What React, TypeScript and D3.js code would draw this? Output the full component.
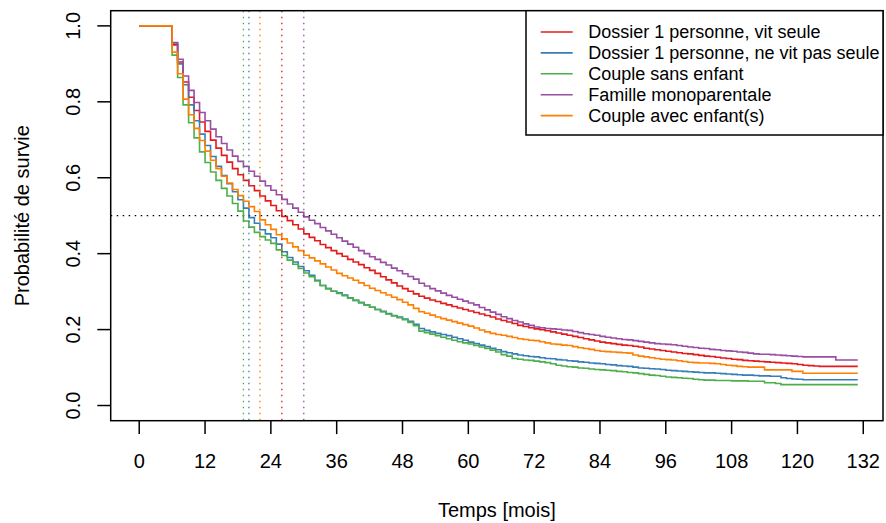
import React from "react";
import * as d3 from "d3";

const W = 886;
const H = 523;

const seriesNames = [
  "Dossier 1 personne, vit seule",
  "Dossier 1 personne, ne vit pas seule",
  "Couple sans enfant",
  "Famille monoparentale",
  "Couple avec enfant(s)",
];
const seriesColors = ["#E41A1C", "#377EB8", "#4DAF4A", "#984EA3", "#FF7F00"];
const medianMonths = [26, 20, 19, 30, 22];
const xTicks = [0, 12, 24, 36, 48, 60, 72, 84, 96, 108, 120, 132];
const yTicks = [0, 0.2, 0.4, 0.6, 0.8, 1.0];
const endMonth = 131;

// survival probability on [month, month+1), index = month
const survRed = [
  1, 1, 1, 1, 1, 1, .950, .905, .852, .812,
  .777, .747, .722, .699, .678, .659, .641, .624, .608, .593,
  .579, .566, .552, .539, .527, .513, .498, .487, .476, .465,
  .452, .443, .434, .424, .416, .408, .400, .393, .385, .378,
  .371, .363, .356, .348, .339, .331, .323, .315, .308, .301,
  .294, .288, .283, .278, .274, .269, .265, .261, .257, .253,
  .249, .245, .241, .237, .233, .228, .224, .220, .216, .211,
  .208, .205, .202, .200, .197, .194, .191, .188, .185, .182,
  .179, .176, .173, .170, .167, .165, .163, .161, .159, .158,
  .156, .154, .151, .149, .147, .145, .143, .141, .139, .137,
  .136, .134, .132, .130, .129, .127, .125, .124, .122, .121,
  .119, .118, .117, .116, .115, .114, .113, .112, .111, .110,
  .108, .106, .105, .104, .103, .103, .103, .103, .103, .103, .103,
];
const survBlue = [
  1, 1, 1, 1, 1, 1, .955, .900, .845, .792,
  .750, .715, .685, .656, .630, .606, .584, .563, .542, .520,
  .495, .480, .463, .452, .442, .425, .405, .390, .378, .366,
  .355, .343, .330, .316, .308, .301, .297, .291, .284, .277,
  .271, .265, .259, .253, .248, .242, .237, .233, .228, .222,
  .214, .203, .198, .194, .190, .187, .184, .180, .176, .172,
  .167, .163, .159, .155, .151, .147, .142, .139, .136, .133,
  .131, .129, .128, .126, .124, .123, .121, .120, .118, .117,
  .115, .114, .112, .111, .110, .108, .107, .105, .104, .103,
  .101, .099, .098, .097, .096, .095, .093, .092, .091, .090,
  .089, .088, .087, .086, .086, .085, .084, .083, .082, .081,
  .080, .080, .079, .078, .078, .077, .077, .073, .071, .070,
  .069, .068, .068, .068, .068, .068, .068, .068, .068, .068, .068,
];
const survGreen = [
  1, 1, 1, 1, 1, 1, .923, .864, .792, .745,
  .705, .668, .640, .615, .593, .572, .552, .532, .512, .486,
  .470, .456, .445, .436, .427, .410, .395, .383, .372, .361,
  .349, .339, .328, .316, .308, .301, .295, .289, .283, .277,
  .271, .265, .259, .253, .247, .241, .236, .231, .226, .219,
  .210, .196, .192, .188, .184, .180, .176, .172, .168, .165,
  .162, .158, .154, .150, .146, .141, .134, .130, .124, .122,
  .120, .119, .117, .115, .113, .110, .106, .104, .102, .101,
  .099, .098, .096, .095, .094, .093, .092, .090, .089, .087,
  .086, .084, .082, .080, .079, .077, .075, .074, .073, .072,
  .071, .069, .068, .067, .067, .066, .066, .066, .065, .065,
  .065, .064, .064, .064, .060, .060, .058, .055, .055, .055,
  .055, .055, .055, .055, .055, .055, .055, .055, .055, .055, .055,
];
const survPurple = [
  1, 1, 1, 1, 1, 1, .956, .912, .868, .830,
  .798, .772, .750, .728, .708, .690, .673, .657, .643, .630,
  .617, .604, .591, .579, .567, .555, .543, .531, .520, .509,
  .497, .488, .479, .469, .460, .451, .442, .433, .425, .417,
  .408, .400, .392, .385, .377, .370, .362, .355, .347, .340,
  .333, .322, .315, .308, .302, .296, .290, .285, .280, .275,
  .270, .265, .258, .252, .246, .240, .234, .229, .224, .220,
  .215, .211, .207, .205, .203, .202, .201, .199, .198, .195,
  .192, .189, .187, .185, .182, .180, .178, .176, .174, .173,
  .171, .169, .167, .165, .163, .162, .161, .160, .158, .156,
  .154, .153, .151, .150, .148, .147, .145, .144, .143, .141,
  .140, .138, .136, .135, .135, .134, .133, .132, .131, .130,
  .129, .128, .128, .128, .128, .128, .128, .120, .120, .120, .120,
];
const survOrange = [
  1, 1, 1, 1, 1, 1, .931, .874, .807, .766,
  .730, .698, .670, .646, .624, .604, .586, .569, .553, .538,
  .524, .511, .489, .476, .464, .450, .439, .428, .418, .408,
  .396, .389, .381, .373, .365, .357, .348, .342, .336, .330,
  .323, .316, .309, .303, .297, .291, .285, .279, .272, .265,
  .256, .247, .243, .238, .233, .229, .225, .221, .217, .213,
  .209, .204, .199, .194, .190, .187, .185, .182, .179, .176,
  .174, .172, .171, .168, .165, .162, .161, .159, .158, .155,
  .152, .150, .148, .145, .143, .142, .141, .140, .139, .138,
  .133, .130, .128, .126, .124, .122, .121, .120, .118, .116,
  .114, .113, .112, .112, .111, .110, .108, .106, .105, .103,
  .102, .101, .101, .101, .094, .094, .094, .094, .094, .090,
  .090, .085, .085, .085, .085, .085, .085, .085, .085, .085, .085,
];
const allSeries = [survRed, survBlue, survGreen, survPurple, survOrange];

const FONT = "'Liberation Sans', Arial, Helvetica, sans-serif";

export default function App() {
  const plotL = 110.7, plotR = 883, plotT = 10.7, plotB = 420.7;
  const x = d3.scaleLinear().domain([-5.2, 135.6]).range([plotL, plotR]);
  const y = d3.scaleLinear().domain([-0.04, 1.04]).range([plotB, plotT]);

  const line = d3
    .line<[number, number]>()
    .x((d) => x(d[0]))
    .y((d) => y(d[1]))
    .curve(d3.curveStepAfter);

  const paths = allSeries.map((vals) => {
    const pts: [number, number][] = vals.map((v, i) => [i, v]);
    pts.push([endMonth, vals[vals.length - 1]]);
    return line(pts) || "";
  });

  const legX = 526, legY = 10.7, legW = 883 - 526, legH = 135 - 10.7;
  const rowY0 = 32, rowStep = 20.9;

  return (
    <div style={{ position: "absolute", left: 0, top: 0 }}>
      <svg width={W} height={H} style={{ display: "block", background: "#fff" }} fontFamily={FONT}>
        <rect x={0} y={0} width={W} height={H} fill="#fff" />
        {paths.map((d, i) => (
          <path key={i} d={d} fill="none" stroke={seriesColors[i]} strokeWidth={1.6} />
        ))}
        {/* median lines */}
        <line x1={plotL} x2={plotR} y1={y(0.5)} y2={y(0.5)} stroke="#000" strokeWidth={1.3} strokeDasharray="1.5,4.5" />
        {medianMonths.map((m, i) => (
          <line key={i} x1={x(m)} x2={x(m)} y1={plotT} y2={plotB} stroke={seriesColors[i]} strokeWidth={1.3} strokeDasharray="1.5,4.5" />
        ))}
        {/* box */}
        <rect x={plotL} y={plotT} width={plotR - plotL} height={plotB - plotT} fill="none" stroke="#000" strokeWidth={1.5} />
        {/* x axis */}
        {xTicks.map((t) => (
          <g key={t}>
            <line x1={x(t)} x2={x(t)} y1={plotB} y2={plotB + 13.4} stroke="#000" strokeWidth={1.5} />
            <text x={x(t)} y={468} textAnchor="middle" fontSize={20} fill="#000">{t}</text>
          </g>
        ))}
        {/* y axis */}
        {yTicks.map((t) => (
          <g key={t}>
            <line x1={plotL} x2={plotL - 13.4} y1={y(t)} y2={y(t)} stroke="#000" strokeWidth={1.5} />
            <text transform={`translate(80,${y(t)}) rotate(-90)`} textAnchor="middle" fontSize={20} fill="#000">{t.toFixed(1)}</text>
          </g>
        ))}
        <text x={(plotL + plotR) / 2} y={517} textAnchor="middle" fontSize={20} fill="#000">Temps [mois]</text>
        <text transform={`translate(29,${(plotT + plotB) / 2}) rotate(-90)`} textAnchor="middle" fontSize={20} fill="#000">Probabilité de survie</text>
        {/* legend */}
        <rect x={legX} y={legY} width={legW} height={legH} fill="#fff" stroke="#000" strokeWidth={1.5} />
        {seriesNames.map((n, i) => (
          <g key={n}>
            <line x1={540.7} x2={572.7} y1={rowY0 + i * rowStep} y2={rowY0 + i * rowStep} stroke={seriesColors[i]} strokeWidth={1.6} />
            <text x={588.3} y={rowY0 + i * rowStep + 6.4} fontSize={18} fill="#000">{n}</text>
          </g>
        ))}
      </svg>
    </div>
  );
}
